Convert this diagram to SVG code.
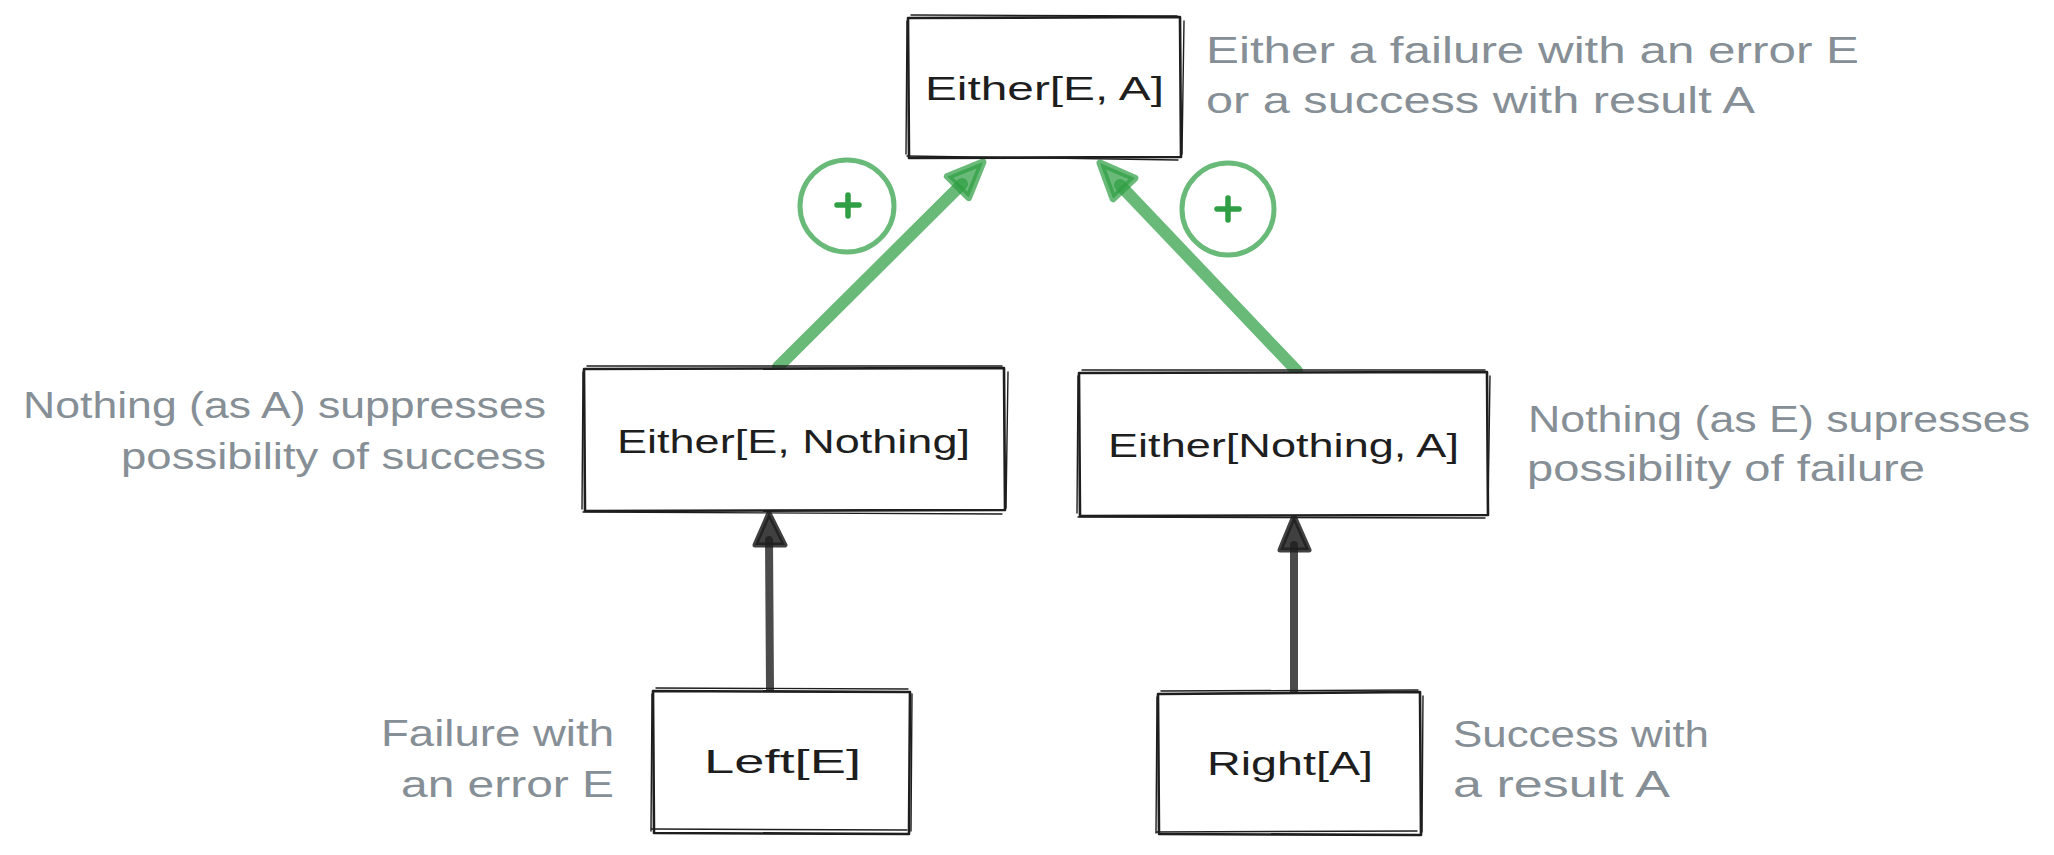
<svg xmlns="http://www.w3.org/2000/svg" width="2054" height="855" viewBox="0 0 2054 855">
<style>
.box{fill:#ffffff;stroke:#1e1e1e;stroke-width:2.6;stroke-linejoin:round}
.sk{fill:none;stroke:#1e1e1e;stroke-width:1.4;stroke-linecap:round}
.lbl{font-family:"Liberation Sans",Arial,sans-serif;font-size:34px;fill:#1e1e1e}
.note{font-family:"Liberation Sans",Arial,sans-serif;font-size:36px;fill:#868e96}
.garr{stroke:#2f9e44;stroke-opacity:0.72;stroke-width:12;stroke-linecap:round;fill:none}
.ghead{fill:#2f9e44;fill-opacity:0.72;stroke:#2f9e44;stroke-opacity:0.72;stroke-width:7;stroke-linejoin:round}
.barr{stroke:#1e1e1e;stroke-opacity:0.8;stroke-width:8;stroke-linecap:round;fill:none}
.bhead{fill:#1e1e1e;fill-opacity:0.85;stroke:#1e1e1e;stroke-opacity:0.85;stroke-width:5;stroke-linejoin:round}
.ring{fill:none;stroke:#2f9e44;stroke-opacity:0.72;stroke-width:5}
.plus{stroke:#2f9e44;stroke-width:5.5;stroke-linecap:round;fill:none}
</style>
<rect x="0" y="0" width="2054" height="855" fill="#ffffff"/>

<g id="connectors">
  <g id="arrow-left-green">
    <path class="garr" d="M778,367 L962,184"/>
    <path class="ghead" d="M983,162 L968.6,197.6 L947.4,176.4 Z"/>
  </g>
  <g id="arrow-right-green">
    <path class="garr" d="M1297,371 L1120,185"/>
    <path class="ghead" d="M1100,163 L1134.9,178.1 L1113.1,198.7 Z"/>
  </g>
  <g id="arrow-left-black">
    <path class="barr" d="M770,690 L769,540"/>
    <path class="bhead" d="M769,513 L785,545 L755,545 Z"/>
  </g>
  <g id="arrow-right-black">
    <path class="barr" d="M1294,694 L1294,545"/>
    <path class="bhead" d="M1294,516 L1309,550 L1280,550 Z"/>
  </g>
</g>

<g id="plus-left">
  <ellipse class="ring" cx="847" cy="206" rx="47" ry="46"/>
  <path class="plus" d="M837,205 L859,205 M848,195 L848,216"/>
</g>
<g id="plus-right">
  <ellipse class="ring" cx="1228" cy="209" rx="46" ry="46"/>
  <path class="plus" d="M1217,209 L1239,209 M1228,198 L1228,220"/>
</g>

<g id="node-either">
  <path class="box" d="M908,18 L1180,17 L1181,157 L909,158 Z"/>
  <path class="sk" d="M911,15 L1177,16 M1184,21 L1182,154 M1178,160 L907,156 M906,154 L907,21"/>
  <text class="lbl" x="925" y="100" textLength="239" lengthAdjust="spacingAndGlyphs">Either[E, A]</text>
</g>

<g id="node-either-e-nothing">
  <path class="box" d="M584,369 L1004,368 L1005,510 L585,511 Z"/>
  <path class="sk" d="M587,366 L1002,366 M1008,372 L1006,508 M1002,514 L583,512 M582,509 L583,372"/>
  <text class="lbl" x="617" y="453" textLength="353" lengthAdjust="spacingAndGlyphs">Either[E, Nothing]</text>
</g>

<g id="node-either-nothing-a">
  <path class="box" d="M1079,373 L1487,372 L1488,515 L1080,516 Z"/>
  <path class="sk" d="M1082,370 L1485,370 M1490,376 L1488,512 M1485,518 L1078,517 M1077,513 L1078,376"/>
  <text class="lbl" x="1108" y="457" textLength="351" lengthAdjust="spacingAndGlyphs">Either[Nothing, A]</text>
</g>

<g id="node-left">
  <path class="box" d="M653,691 L910,692 L909,834 L654,833 Z"/>
  <path class="sk" d="M656,688 L908,689 M912,694 L911,831 M907,830 L652,829 M651,831 L652,694"/>
  <text class="lbl" x="704" y="773" textLength="157" lengthAdjust="spacingAndGlyphs">Left[E]</text>
</g>

<g id="node-right">
  <path class="box" d="M1158,694 L1420,692 L1421,835 L1159,834 Z"/>
  <path class="sk" d="M1161,691 L1418,690 M1423,696 L1422,832 M1417,831 L1157,832 M1156,833 L1157,697"/>
  <text class="lbl" x="1207" y="775" textLength="166" lengthAdjust="spacingAndGlyphs">Right[A]</text>
</g>

<g id="notes">
  <text class="note" x="1206" y="63" textLength="653" lengthAdjust="spacingAndGlyphs">Either a failure with an error E</text>
  <text class="note" x="1206" y="113" textLength="549" lengthAdjust="spacingAndGlyphs">or a success with result A</text>
  <text class="note" x="23" y="418" textLength="523" lengthAdjust="spacingAndGlyphs">Nothing (as A) suppresses</text>
  <text class="note" x="121" y="469" textLength="425" lengthAdjust="spacingAndGlyphs">possibility of success</text>
  <text class="note" x="1528" y="432" textLength="502" lengthAdjust="spacingAndGlyphs">Nothing (as E) supresses</text>
  <text class="note" x="1527" y="481" textLength="398" lengthAdjust="spacingAndGlyphs">possibility of failure</text>
  <text class="note" x="381" y="746" textLength="233" lengthAdjust="spacingAndGlyphs">Failure with</text>
  <text class="note" x="401" y="797" textLength="213" lengthAdjust="spacingAndGlyphs">an error E</text>
  <text class="note" x="1453" y="747" textLength="256" lengthAdjust="spacingAndGlyphs">Success with</text>
  <text class="note" x="1453" y="797" textLength="217" lengthAdjust="spacingAndGlyphs">a result A</text>
</g>
</svg>
